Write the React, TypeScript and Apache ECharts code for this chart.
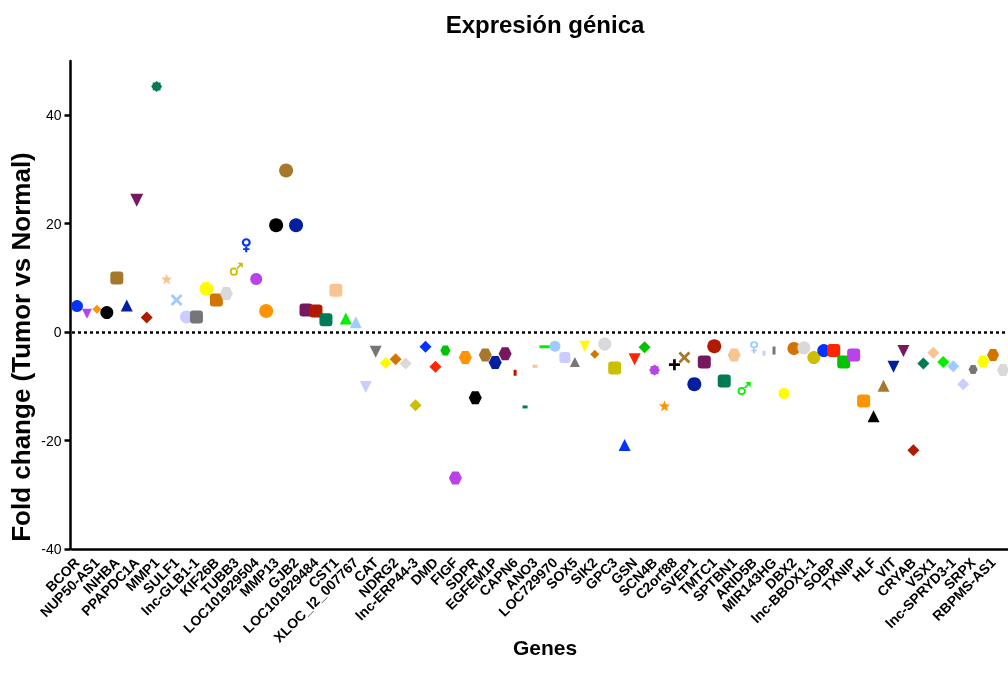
import React, { useEffect, useRef } from "react";
import * as echarts from "echarts";

// Gene categories (odd positions are unlabeled in the reference)
const genes: string[] = [
  "BCOR", "", "NUP50-AS1", "", "INHBA", "", "PPAPDC1A", "", "MMP1", "",
  "SULF1", "", "lnc-GLB1-1", "", "KIF26B", "", "TUBB3", "", "LOC101929504", "",
  "MMP13", "", "GJB2", "", "LOC101929484", "", "CST1", "", "XLOC_l2_007767", "",
  "CAT", "", "NDRG2", "", "lnc-ERP44-3", "", "DMD", "", "FIGF", "",
  "SDPR", "", "EGFEM1P", "", "CAPN6", "", "ANO3", "", "LOC729970", "",
  "SOX5", "", "SIK2", "", "GPC3", "", "GSN", "", "SCN4B", "",
  "C2orf88", "", "SVEP1", "", "TMTC1", "", "SPTBN1", "", "ARID5B", "",
  "MIR143HG", "", "DBX2", "", "lnc-BBOX1-1", "", "SOBP", "", "TXNIP", "",
  "HLF", "", "VIT", "", "CRYAB", "", "VSX1", "", "lnc-SPRYD3-1", "",
  "SRPX", "", "RBPMS-AS1", "",
];

// Fold change values (Tumor vs Normal)
const foldChange: number[] = [
  4.8, 3.4, 4.2, 3.6, 10.0, 4.9, 24.3, 2.7, 45.3, 9.8,
  5.9, 2.8, 2.8, 8.0, 5.9, 7.1, 11.6, 16.0, 9.8, 3.9,
  19.7, 29.8, 19.7, 4.1, 3.9, 2.3, 7.7, 2.5, 1.8, -10.1,
  -3.6, -5.7, -5.0, -5.8, -13.5, -2.7, -6.4, -3.4, -26.9, -4.7,
  -12.1, -4.2, -5.6, -4.0, -7.5, -13.8, -6.3, -2.7, -2.6, -4.7,
  -5.5, -2.6, -4.1, -2.2, -6.6, -20.8, -5.0, -2.8, -7.0, -13.6,
  -6.0, -4.7, -9.6, -5.5, -2.6, -9.0, -4.2, -10.4, -2.8, -3.9,
  -3.4, -11.3, -3.0, -2.9, -4.7, -3.4, -3.4, -5.5, -4.2, -12.7,
  -15.5, -9.9, -6.4, -3.5, -21.8, -5.8, -3.8, -5.5, -6.3, -9.6,
  -6.9, -5.4, -4.2, -7.0,
];

const yTicks: number[] = [-40, -20, 0, 20, 40];

// ---- styling ----
const C: Record<string, string> = {
  blue: "#0433ff", purple: "#b942e8", orange: "#ff9300", black: "#000000",
  brown: "#a6782b", navy: "#011f9e", dmag: "#77185f", dred: "#b21a00",
  dgreen: "#017b55", peach: "#f7c492", lblue: "#9fcbff", lav: "#cccdff",
  gray: "#767676", yellow: "#fffb00", dorange: "#d27500", lgray: "#d9d9d9",
  olive: "#cbbf00", red: "#ff2600", green: "#00c400", bgreen: "#00f000",
};

const pointColors: string[] = [
  "blue", "purple", "orange", "black", "brown", "navy", "dmag", "dred", "dgreen", "peach",
  "lblue", "lav", "gray", "yellow", "dorange", "lgray", "olive", "blue", "purple", "orange",
  "black", "brown", "navy", "dmag", "dred", "dgreen", "peach", "bgreen", "lblue", "lav",
  "gray", "yellow", "dorange", "lgray", "olive", "blue", "red", "green", "purple", "orange",
  "black", "brown", "navy", "dmag", "dred", "dgreen", "peach", "bgreen", "lblue", "lav",
  "gray", "yellow", "dorange", "lgray", "olive", "blue", "red", "green", "purple", "orange",
  "black", "brown", "navy", "dmag", "dred", "dgreen", "peach", "bgreen", "lblue", "lav",
  "gray", "yellow", "dorange", "lgray", "olive", "blue", "red", "green", "purple", "orange",
  "black", "brown", "navy", "dmag", "dred", "dgreen", "peach", "bgreen", "lblue", "lav",
  "gray", "yellow", "dorange", "lgray",
];

const pointShapes: string[] = [
  "c", "v", "d", "c", "s", "t", "v", "d", "a", "st",
  "x", "c", "s", "c", "s", "h", "m", "f", "c", "c",
  "c", "c", "c", "s", "s", "s", "s", "t", "t", "v",
  "v", "d", "d", "d", "d", "d", "d", "h", "h", "h",
  "h", "h", "h", "h", "vd", "hd", "hd", "hl", "c", "s",
  "t", "v", "d", "c", "s", "t", "v", "d", "a", "st",
  "p", "x", "c", "s", "c", "s", "h", "m", "f", "vd",
  "vd", "c", "c", "c", "c", "c", "s", "s", "s", "s",
  "t", "t", "v", "v", "d", "d", "d", "d", "d", "d",
  "h", "h", "h", "h",
];

const pointSizes: (number | number[])[] = [
  12, 10, 9, 13, 13, 12, 13, 12, 11, 11,
  12, 13, 13, 14, 13, 13, 13, [9, 14], 12, 14,
  14, 14, 14, 13, 13, 13, 13, 12, 12, 12,
  12, 12, 12, 12, 12, 12, 12, 10, 13, 13,
  13, 13, 13, 13, [3, 6], [5, 3], [5, 3], [11, 3], 11, 11,
  10, 11, 9, 13, 13, 12, 12, 12, 11, 11,
  11, 12, 14, 13, 14, 13, 13, 13, [8, 12], [3, 5],
  [3, 8], 11, 13, 13, 13, 13, 13, 13, 13, 13,
  12, 12, 12, 12, 12, 12, 12, 12, 12, 12,
  9, 12, 12, 12,
];

function starPath(points: number, rOut: number, rIn: number): string {
  const parts: string[] = [];
  for (let i = 0; i < points * 2; i++) {
    const r = i % 2 === 0 ? rOut : rIn;
    const a = -Math.PI / 2 + (i * Math.PI) / points;
    parts.push(`${i === 0 ? "M" : "L"}${(10 + r * Math.cos(a)).toFixed(2)},${(10 + r * Math.sin(a)).toFixed(2)}`);
  }
  return "path://" + parts.join(" ") + " Z";
}

const SHAPES: Record<string, string> = {
  c: "circle",
  s: "roundRect",
  t: "triangle",
  v: "triangle",
  d: "diamond",
  h: "path://M5,0 L15,0 L20,8.66 L15,17.32 L5,17.32 L0,8.66 Z",
  a: starPath(8, 10, 8),
  st: starPath(5, 10, 4.2),
  x: "path://M0,2 L2,0 L6,4 L10,0 L12,2 L8,6 L12,10 L10,12 L6,8 L2,12 L0,10 L4,6 Z",
  p: "path://M4.5,0 L7.5,0 L7.5,4.5 L12,4.5 L12,7.5 L7.5,7.5 L7.5,12 L4.5,12 L4.5,7.5 L0,7.5 L0,4.5 L4.5,4.5 Z",
  m: "path://M0,11 A5,5 0 1,0 10,11 A5,5 0 1,0 0,11 Z M2.2,11 A2.8,2.8 0 1,1 7.8,11 A2.8,2.8 0 1,1 2.2,11 Z M7.4,7.2 L12.4,2.2 L13.8,3.6 L8.8,8.6 Z M9.5,0 L16,0 L16,6.5 Z",
  f: "path://M0,5 A5,5 0 1,0 10,5 A5,5 0 1,0 0,5 Z M2.4,5 A2.6,2.6 0 1,1 7.6,5 A2.6,2.6 0 1,1 2.4,5 Z M3.8,9.5 L6.2,9.5 L6.2,12 L8.5,12 L8.5,14 L6.2,14 L6.2,17 L3.8,17 L3.8,14 L1.5,14 L1.5,12 L3.8,12 Z",
  hd: "rect",
  vd: "rect",
  hl: "rect",
};

const FONT = "'Liberation Sans', Arial, Helvetica, sans-serif";

export default function App() {
  const ref = useRef<HTMLDivElement>(null);
  useEffect(() => {
    if (!ref.current) return;
    const chart = echarts.init(ref.current, null, { renderer: "svg" });
    const data = foldChange.map((v, i) => {
      const shape = pointShapes[i];
      return {
        value: [i, v],
        symbol: SHAPES[shape],
        symbolSize: pointSizes[i],
        symbolRotate: shape === "v" ? 180 : 0,
        itemStyle: { color: C[pointColors[i]], opacity: 1 },
      };
    });
    chart.setOption({
      animation: false,
      textStyle: { fontFamily: FONT },
      graphic: [
        {
          type: "text",
          x: 545,
          y: 24,
          style: {
            text: "Expresión génica",
            font: `bold 24px ${FONT}`,
            fill: "#000",
            textAlign: "center",
            textVerticalAlign: "middle",
          },
        },
        {
          type: "text",
          x: 21,
          y: 347,
          rotation: Math.PI / 2,
          style: {
            text: "Fold change (Tumor vs Normal)",
            font: `bold 26px ${FONT}`,
            fill: "#000",
            textAlign: "center",
            textVerticalAlign: "middle",
          },
        },
        {
          type: "text",
          x: 545,
          y: 647,
          style: {
            text: "Genes",
            font: `bold 21px ${FONT}`,
            fill: "#000",
            textAlign: "center",
            textVerticalAlign: "middle",
          },
        },
      ],
      grid: { left: 72, top: 61, width: 940, height: 488, containLabel: false },
      xAxis: {
        type: "category",
        data: genes,
        boundaryGap: true,
        axisLine: { onZero: false, lineStyle: { color: "#000", width: 2.5 } },
        axisTick: { interval: 1, alignWithLabel: true, length: 6, lineStyle: { color: "#000", width: 2.5 } },
        axisLabel: {
          interval: 1,
          rotate: 45,
          margin: 11,
          color: "#000",
          fontWeight: "bold",
          fontSize: 14,
          fontFamily: FONT,
        },
        splitLine: { show: false },
      },
      yAxis: {
        type: "value",
        min: -40,
        max: 50,
        offset: 1.5,
        axisLine: { show: true, lineStyle: { color: "#000", width: 2.5 } },
        axisTick: { show: true, length: 6, customValues: yTicks, lineStyle: { color: "#000", width: 2.5 } },
        axisLabel: { customValues: yTicks, color: "#000", fontSize: 14, margin: 9, fontFamily: FONT },
        splitLine: { show: false },
      },
      series: [
        {
          type: "scatter",
          data,
          itemStyle: { opacity: 1 },
          markLine: {
            silent: true,
            symbol: ["none", "none"],
            label: { show: false },
            lineStyle: { color: "#000", type: [3, 3], width: 2.5, opacity: 1 },
            data: [{ yAxis: 0 }],
          },
        },
      ],
    });
    return () => chart.dispose();
  }, []);
  return (
    <div
      ref={ref}
      style={{ position: "fixed", left: 0, top: 0, width: 1008, height: 684 }}
    />
  );
}
